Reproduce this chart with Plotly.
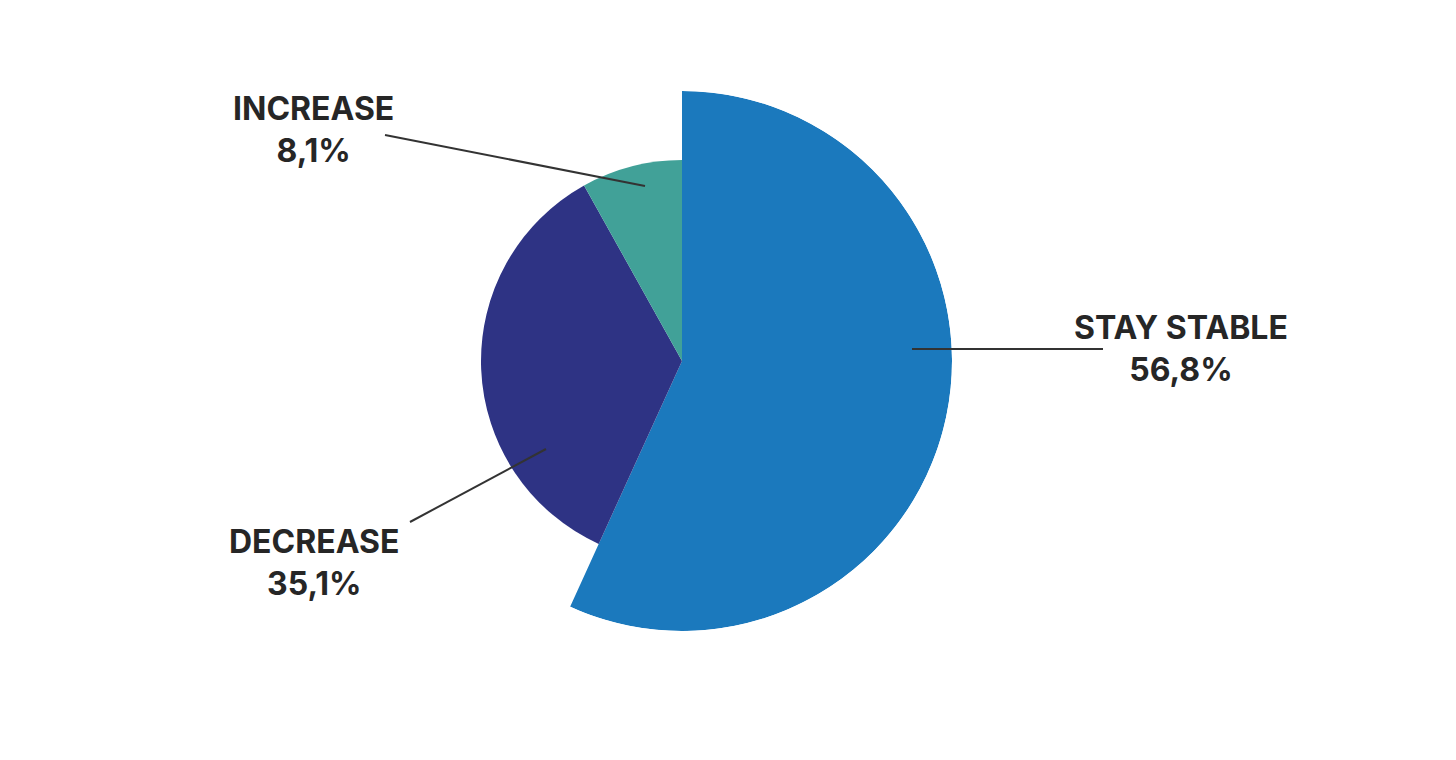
import plotly.graph_objects as go

# data
categories = ["STAY STABLE", "DECREASE", "INCREASE"]
shares = [56.8, 35.1, 8.1]
value_labels = ["56,8%", "35,1%", "8,1%"]
emphasised = [True, False, False]

colors = ["#1B79BD", "#2E3384", "#41A198"]
R_BIG, R_SMALL = 270, 201
W, H = 1456, 760
PAGE_OFFSET = 8  # default body margin of the html page

# slice angles from the shares (clockwise from 12 o'clock)
thetas, widths = [], []
start = 0
for s in shares:
    span = s * 3.6
    thetas.append(start + span / 2)
    widths.append(span)
    start += span

radii = [R_BIG if e else R_SMALL for e in emphasised]

fig = go.Figure(go.Barpolar(
    r=radii,
    theta=thetas,
    width=widths,
    marker=dict(color=colors, line=dict(width=0)),
    hoverinfo="skip",
))


def to_paper(px_, py_):
    # screen pixel -> paper coords, allowing for the page margin
    return (px_ - PAGE_OFFSET) / W, 1 - (py_ - PAGE_OFFSET) / H


cx, cy = 682 - PAGE_OFFSET, 361 - PAGE_OFFSET  # pie centre in figure pixels
fig.update_layout(
    width=W, height=H,
    paper_bgcolor="white",
    plot_bgcolor="white",
    margin=dict(l=0, r=0, t=0, b=0),
    showlegend=False,
    polar=dict(
        domain=dict(x=[(cx - R_BIG) / W, (cx + R_BIG) / W],
                    y=[(H - cy - R_BIG) / H, (H - cy + R_BIG) / H]),
        bgcolor="white",
        bargap=0,
        radialaxis=dict(range=[0, R_BIG], visible=False),
        angularaxis=dict(rotation=90, direction="clockwise", visible=False),
    ),
)

# labels and leader lines (screen pixel positions)
label_pos = {"STAY STABLE": (1181, 348), "DECREASE": (314, 562), "INCREASE": (313, 130)}
leaders = {
    "STAY STABLE": ((912, 349), (1103, 349)),
    "DECREASE": ((410, 522), (546, 449)),
    "INCREASE": ((385, 135), (645, 186)),
}

font = dict(family="Inter, Roboto, sans-serif", size=32, color="#262626")
for cat, val in zip(categories, value_labels):
    ax_, ay_ = to_paper(*label_pos[cat])
    fig.add_annotation(
        x=ax_, y=ay_, xref="paper", yref="paper",
        xanchor="center", yanchor="middle",
        text=f"<b>{cat}</b><br><b>{val}</b>", showarrow=False,
        align="center", font=font,
    )
    p0, p1 = leaders[cat]
    x0, y0 = to_paper(*p0)
    x1, y1 = to_paper(*p1)
    fig.add_shape(
        type="line", xref="paper", yref="paper",
        x0=x0, y0=y0, x1=x1, y1=y1,
        line=dict(color="#333333", width=2),
    )

fig.write_html("out.html")
